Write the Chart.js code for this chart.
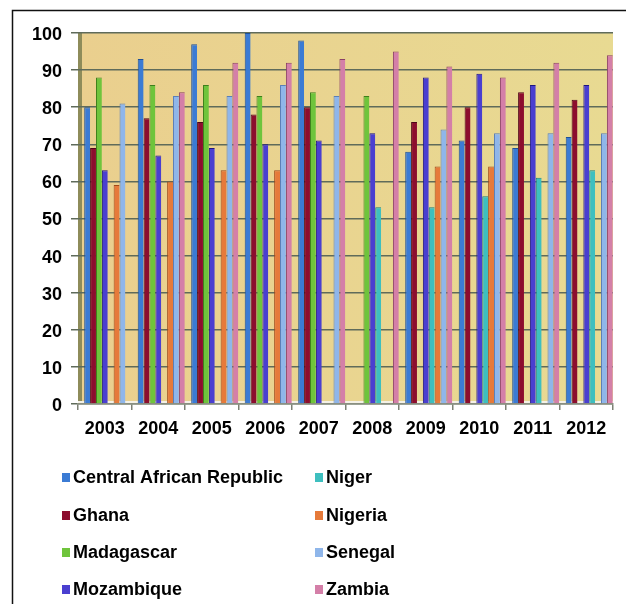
<!DOCTYPE html>
<html>
<head>
<meta charset="utf-8">
<script src="https://cdn.jsdelivr.net/npm/chart.js@4/dist/chart.umd.min.js"></script>
<style>
  body { margin: 0; background: #fff; }
  #wrap { position: relative; width: 626px; height: 604px; }
</style>
</head>
<body>
<div id="wrap"><canvas id="chart" width="626" height="604"></canvas></div>
<script>
// categories and series (0 = no bar in that year)
const years = ["2003", "2004", "2005", "2006", "2007", "2008", "2009", "2010", "2011", "2012"];
const countries = ["Central African Republic", "Ghana", "Madagascar", "Mozambique", "Niger", "Nigeria", "Senegal", "Zambia"];

const car        = [80, 93, 97, 100, 98, 0, 68, 71, 69, 72];
const ghana      = [69, 77, 76, 78, 80, 0, 76, 80, 84, 82];
const madagascar = [88, 86, 86, 83, 84, 83, 0, 0, 0, 0];
const mozambique = [63, 67, 69, 70, 71, 73, 88, 89, 86, 86];
const niger      = [0, 0, 0, 0, 0, 53, 53, 56, 61, 63];
const nigeria    = [59, 60, 63, 63, 0, 0, 64, 64, 0, 0];
const senegal    = [81, 83, 83, 86, 83, 0, 74, 73, 73, 73];
const zambia     = [0, 84, 92, 92, 93, 95, 91, 88, 92, 94];

const yTicks = [0, 10, 20, 30, 40, 50, 60, 70, 80, 90, 100];

const series = [car, ghana, madagascar, mozambique, niger, nigeria, senegal, zambia];
const fills  = ["#3b7bd4", "#8c0d2e", "#6fc43c", "#4a3fd0", "#3ebfbf", "#e67a3a", "#8fb6ea", "#d47fa8"];
const edges  = ["#1f4f95", "#4d0418", "#3f7f1c", "#1e1580", "#1a7f7f", "#a04a1a", "#5a7fb8", "#8a3f66"];

const FONT = "'Liberation Sans', Arial, sans-serif";

// white page with the thin black frame on the left and top
const framePlugin = {
  id: "frame",
  beforeDraw(chart) {
    const ctx = chart.ctx;
    ctx.save();
    ctx.fillStyle = "#fff";
    ctx.fillRect(0, 0, chart.width, chart.height);
    ctx.strokeStyle = "#111";
    ctx.lineWidth = 1.5;
    ctx.beginPath();
    ctx.moveTo(12.5, chart.height);
    ctx.lineTo(12.5, 10.5);
    ctx.lineTo(chart.width, 10.5);
    ctx.stroke();

    // papyrus-like plot background
    const a = chart.chartArea;
    const g = ctx.createLinearGradient(a.left, 0, a.right, 0);
    g.addColorStop(0, "#eacf8e");
    g.addColorStop(1, "#e8da92");
    ctx.fillStyle = g;
    ctx.fillRect(a.left, a.top, a.right - a.left, a.bottom - a.top);
    // side wall
    ctx.fillStyle = "#8e8c5a";
    ctx.fillRect(a.left, a.top, 4, a.bottom - a.top);
    // floor
    ctx.fillStyle = "#f4f1e6";
    ctx.fillRect(a.left, a.bottom - 3, a.right - a.left, 3);
    ctx.restore();
  }
};

// bars sit a little to the right of the category slot (3D depth look)
const shiftPlugin = {
  id: "shift",
  beforeDatasetsDraw(chart) { chart.ctx.save(); chart.ctx.translate(3, 0); },
  afterDatasetsDraw(chart) { chart.ctx.restore(); }
};

// two-column legend below the axis
const legendPlugin = {
  id: "twoColLegend",
  afterDraw(chart) {
    const ctx = chart.ctx;
    const colX = [62, 315];
    const rowY = [478, 516, 553, 590];
    ctx.save();
    ctx.font = "bold 18px " + FONT;
    ctx.textBaseline = "middle";
    chart.data.datasets.forEach((ds, i) => {
      const x = colX[Math.floor(i / 4)];
      const y = rowY[i % 4];
      ctx.fillStyle = ds.backgroundColor;
      ctx.fillRect(x, y - 5, 8, 9);
      ctx.fillStyle = "#000";
      ctx.fillText(ds.label, x + 11, y);
    });
    ctx.restore();
  }
};

new Chart(document.getElementById("chart"), {
  type: "bar",
  data: {
    labels: years,
    datasets: countries.map((name, i) => ({
      label: name,
      data: series[i],
      backgroundColor: fills[i],
      borderColor: edges[i],
      borderWidth: { left: 1, top: 1, right: 0, bottom: 0 },
      borderSkipped: false,
      categoryPercentage: 0.88,
      barPercentage: 1.0
    }))
  },
  options: {
    responsive: false,
    animation: false,
    layout: { padding: { top: 33, right: 13, left: 0, bottom: 0 } },
    plugins: {
      legend: { display: false },
      tooltip: { enabled: false }
    },
    scales: {
      x: {
        afterFit(scale) { scale.height = 200; },
        grid: { offset: true, drawOnChartArea: false, tickLength: 6, color: "#7d8175", lineWidth: 1.5 },
        border: { display: true, color: "#8a8f80", width: 1.5 },
        ticks: { color: "#000", padding: 8, font: { family: FONT, size: 18, weight: "bold" } }
      },
      y: {
        min: 0,
        max: 100,
        afterFit(scale) { scale.width = 78; },
        afterBuildTicks(scale) { scale.ticks = yTicks.map(v => ({ value: v })); },
        grid: { color: "#5f6b5a", lineWidth: 1.5, tickLength: 7 },
        border: { display: false },
        ticks: { color: "#000", padding: 9, labelOffset: 2, font: { family: FONT, size: 18, weight: "bold" } }
      }
    }
  },
  plugins: [framePlugin, shiftPlugin, legendPlugin]
});
</script>
</body>
</html>
